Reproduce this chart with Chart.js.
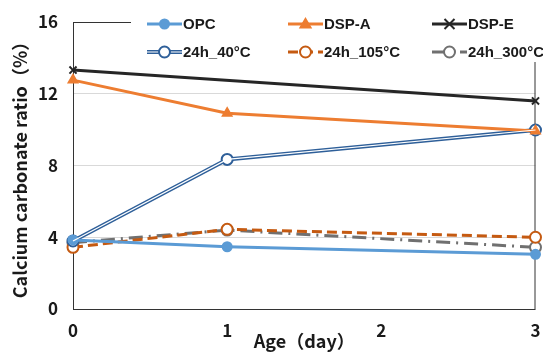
<!DOCTYPE html>
<html>
<head>
<meta charset="utf-8">
<script src="https://cdn.jsdelivr.net/npm/chart.js@4"></script>
<style>
  html, body { margin: 0; padding: 0; background: #fff; }
  #wrap { width: 543px; height: 352px; position: relative; }
</style>
</head>
<body>
<div id="wrap"><canvas id="carbChart" width="543" height="352"></canvas></div>
<script>
// data
const days = [0, 1, 3];
const opc = [3.85, 3.47, 3.05];
const dspA = [12.76, 10.91, 9.92];
const dspE = [13.32, null, 11.6];
const h40 = [3.79, 8.34, 9.98];
const h105 = [3.44, 4.44, 4.0];
const h300 = [3.7, 4.4, 3.44];
const yTicks = [0, 4, 8, 12, 16];
const xTicks = [0, 1, 2, 3];

const FONT = "'Noto Sans CJK JP', 'Noto Sans', sans-serif";
const LEGEND_FONT = "bold 15px 'Liberation Sans', Arial, sans-serif";
const pts = (vals) => days.map((d, i) => ({ x: d, y: vals[i] }));

const series = [
  { label: 'OPC', data: opc, color: '#5B9BD5', width: 3, dash: [], marker: 'circle', r: 4.5, fill: '#5B9BD5' },
  { label: 'DSP-A', data: dspA, color: '#ED7D31', width: 3, dash: [], marker: 'triangle', r: 5, fill: '#ED7D31' },
  { label: 'DSP-E', data: dspE, color: '#262626', width: 3, dash: [], marker: 'crossRot', r: 5, fill: '#262626' },
  { label: '24h_40°C', data: h40, color: '#2E5F99', width: 4, dash: [], marker: 'circle', r: 5.5, fill: '#fff', dbl: true },
  { label: '24h_105°C', data: h105, color: '#C55A11', width: 3, dash: [10, 5], marker: 'circle', r: 5.5, fill: '#fff' },
  { label: '24h_300°C', data: h300, color: '#707070', width: 3, dash: [14, 6, 2, 6], marker: 'circle', r: 5.5, fill: '#fff' }
];

const datasets = [];
series.forEach(s => {
  datasets.push({
    label: s.label,
    data: pts(s.data),
    borderColor: s.color,
    borderWidth: s.width,
    borderDash: s.dash,
    pointStyle: s.marker,
    pointRadius: s.r,
    pointBackgroundColor: s.fill,
    pointBorderColor: s.color,
    pointBorderWidth: 2,
    spanGaps: true,
    clip: false,
    tension: 0
  });
  if (s.dbl) {
    // white core line gives the double-line look
    datasets.push({
      label: '_inner',
      data: pts(s.data),
      borderColor: '#ffffff',
      borderWidth: 1.2,
      pointRadius: 0,
      clip: false,
      tension: 0,
      order: -1
    });
  }
});

function drawMarker(ctx, s, x, y) {
  ctx.save();
  ctx.setLineDash([]);
  ctx.strokeStyle = s.color;
  ctx.fillStyle = s.fill;
  ctx.lineWidth = 2;
  const r = s.r;
  if (s.marker === 'circle') {
    ctx.beginPath();
    ctx.arc(x, y, r, 0, Math.PI * 2);
    ctx.fill();
    ctx.stroke();
  } else if (s.marker === 'triangle') {
    ctx.beginPath();
    ctx.moveTo(x, y - r);
    ctx.lineTo(x + r, y + r * 0.7);
    ctx.lineTo(x - r, y + r * 0.7);
    ctx.closePath();
    ctx.fill();
    ctx.stroke();
  } else {
    ctx.beginPath();
    ctx.moveTo(x - r, y - r); ctx.lineTo(x + r, y + r);
    ctx.moveTo(x + r, y - r); ctx.lineTo(x - r, y + r);
    ctx.stroke();
  }
  ctx.restore();
}

const frameAndLegend = {
  id: 'frameAndLegend',
  beforeDatasetsDraw(chart) {
    const { ctx, chartArea: a } = chart;
    ctx.save();
    ctx.strokeStyle = '#333';
    ctx.lineWidth = 1;
    ctx.strokeRect(a.left + 0.5, a.top + 0.5, a.right - a.left - 1, a.bottom - a.top);
    ctx.restore();
  },
  afterDraw(chart) {
    const ctx = chart.ctx;
    ctx.save();
    ctx.fillStyle = '#fff';
    ctx.fillRect(131, 0, 412, 62);
    const cols = [147, 288, 432];
    const rows = [24, 52];
    ctx.font = LEGEND_FONT;
    ctx.textBaseline = 'middle';
    series.forEach((s, i) => {
      const x0 = cols[i % 3], y = rows[Math.floor(i / 3)];
      const x1 = x0 + 35;
      ctx.save();
      ctx.strokeStyle = s.color;
      ctx.lineWidth = s.width;
      ctx.setLineDash(s.dash);
      ctx.beginPath();
      ctx.moveTo(x0, y); ctx.lineTo(x1, y);
      ctx.stroke();
      if (s.dbl) {
        ctx.strokeStyle = '#fff';
        ctx.lineWidth = 1.2;
        ctx.beginPath();
        ctx.moveTo(x0, y); ctx.lineTo(x1, y);
        ctx.stroke();
      }
      ctx.restore();
      drawMarker(ctx, s, (x0 + x1) / 2, y);
      ctx.fillStyle = '#1a1a1a';
      ctx.fillText(s.label, x1 + 1, y + 1);
    });
    ctx.restore();
  }
};

new Chart(document.getElementById('carbChart'), {
  type: 'line',
  data: { datasets },
  options: {
    responsive: false,
    animation: false,
    layout: { padding: { top: 22, right: 4, left: 0, bottom: 0 } },
    plugins: { legend: { display: false }, tooltip: { enabled: false } },
    scales: {
      x: {
        type: 'linear',
        min: 0, max: 3,
        afterFit: (s) => { s.height = 43; s.paddingLeft = 0; s.paddingRight = 0; },
        afterBuildTicks: (s) => { s.ticks = xTicks.map(v => ({ value: v })); },
        grid: { display: false, drawTicks: false },
        border: { display: false },
        ticks: { padding: 11, color: '#1a1a1a', font: { family: FONT, size: 17, weight: 'bold' } },
        title: { display: true, text: 'Age\uFF08day\uFF09', color: '#1a1a1a', padding: { top: 0, bottom: 0 },
                 font: { family: FONT, size: 18, weight: 'bold' } }
      },
      y: {
        min: 0, max: 16,
        afterFit: (s) => { s.width = 73; s.paddingTop = 0; s.paddingBottom = 0; },
        afterBuildTicks: (s) => { s.ticks = yTicks.map(v => ({ value: v })); },
        grid: { color: '#d9d9d9', drawTicks: false },
        border: { display: false },
        ticks: { padding: 15, color: '#1a1a1a', font: { family: FONT, size: 17, weight: 'bold' } },
        title: { display: true, text: 'Calcium carbonate ratio\uFF08%\uFF09', color: '#1a1a1a', padding: { top: 9, bottom: 0 },
                 font: { family: FONT, size: 18, weight: 'bold' } }
      }
    }
  },
  plugins: [frameAndLegend]
});
</script>
</body>
</html>
